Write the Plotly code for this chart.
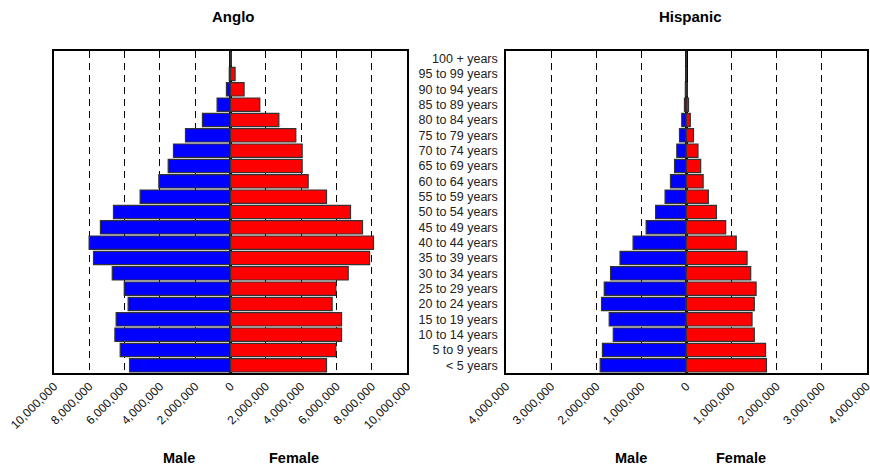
import plotly.graph_objects as go

ages = ["< 5 years", "5 to 9 years", "10 to 14 years", "15 to 19 years", "20 to 24 years",
        "25 to 29 years", "30 to 34 years", "35 to 39 years", "40 to 44 years", "45 to 49 years",
        "50 to 54 years", "55 to 59 years", "60 to 64 years", "65 to 69 years", "70 to 74 years",
        "75 to 79 years", "80 to 84 years", "85 to 89 years", "90 to 94 years", "95 to 99 years",
        "100 + years"]

anglo_male = [5720000, 6250000, 6550000, 6480000, 5800000, 6020000, 6700000, 7760000, 8010000,
              7370000, 6630000, 5120000, 4060000, 3530000, 3230000, 2550000, 1590000, 760000,
              230000, 70000, 10000]
anglo_female = [5440000, 5970000, 6290000, 6290000, 5760000, 5970000, 6670000, 7880000, 8100000,
                7480000, 6800000, 5440000, 4400000, 4060000, 4060000, 3700000, 2740000, 1660000,
                770000, 260000, 40000]

hisp_male = [1910000, 1860000, 1620000, 1710000, 1880000, 1820000, 1680000, 1470000, 1180000,
             890000, 680000, 470000, 350000, 260000, 210000, 150000, 100000, 40000, 20000,
             5000, 1000]
hisp_female = [1780000, 1760000, 1510000, 1460000, 1510000, 1550000, 1430000, 1350000, 1110000,
               875000, 670000, 490000, 375000, 320000, 260000, 160000, 90000, 50000, 20000,
               6000, 1000]

anglo_tickvals = [-10e6, -8e6, -6e6, -4e6, -2e6, 0, 2e6, 4e6, 6e6, 8e6, 10e6]
anglo_ticktext = ["10,000,000", "8,000,000", "6,000,000", "4,000,000", "2,000,000", "0",
                  "2,000,000", "4,000,000", "6,000,000", "8,000,000", "10,000,000"]
hisp_tickvals = [-4e6, -3e6, -2e6, -1e6, 0, 1e6, 2e6, 3e6, 4e6]
hisp_ticktext = ["4,000,000", "3,000,000", "2,000,000", "1,000,000", "0",
                 "1,000,000", "2,000,000", "3,000,000", "4,000,000"]

BLUE = "#0000ff"
RED = "#ff0000"
FONT = "Liberation Sans, Arial, sans-serif"

fig = go.Figure()
line = dict(color="#333333", width=1.2)
fig.add_trace(go.Bar(y=ages, x=[-v for v in anglo_male], orientation="h", marker=dict(color=BLUE, line=line),
                     xaxis="x", yaxis="y", showlegend=False))
fig.add_trace(go.Bar(y=ages, x=anglo_female, orientation="h", marker=dict(color=RED, line=line),
                     xaxis="x", yaxis="y", showlegend=False))
fig.add_trace(go.Bar(y=ages, x=[-v for v in hisp_male], orientation="h", marker=dict(color=BLUE, line=line),
                     xaxis="x2", yaxis="y2", showlegend=False))
fig.add_trace(go.Bar(y=ages, x=hisp_female, orientation="h", marker=dict(color=RED, line=line),
                     xaxis="x2", yaxis="y2", showlegend=False))

ydom = [(468 - 373) / 468, (468 - 51) / 468]
common_x = dict(showline=True, mirror=True, linecolor="black", linewidth=1.5,
                showgrid=True, gridcolor="black", griddash="7px,5px", gridwidth=1,
                zeroline=True, zerolinecolor="black", zerolinewidth=2.5,
                tickangle=-45, tickfont=dict(family=FONT, size=12, color="#111"),
                ticklabeloverflow="allow",
                ticks="", automargin=False, fixedrange=True)
common_y = dict(showline=True, mirror=True, linecolor="black", linewidth=1.5,
                showgrid=False, zeroline=False, categoryorder="array", categoryarray=ages,
                range=[-0.5, 20.5], automargin=False, domain=ydom, ticks="", fixedrange=True)

fig.update_layout(
    width=870, height=468,
    margin=dict(l=0, r=0, t=0, b=0),
    paper_bgcolor="white", plot_bgcolor="white",
    barmode="relative", bargap=0.13,
    font=dict(family=FONT, size=12, color="#222"),
    xaxis=dict(domain=[54 / 870, 407 / 870], range=[-10e6, 10e6], tickmode="array",
               tickvals=anglo_tickvals, ticktext=anglo_ticktext, anchor="y", **common_x),
    yaxis=dict(anchor="x", showticklabels=False, **common_y),
    xaxis2=dict(domain=[506 / 870, 866.5 / 870], range=[-4e6, 4e6], tickmode="array",
                tickvals=hisp_tickvals, ticktext=hisp_ticktext, anchor="y2", **common_x),
    yaxis2=dict(anchor="x2", showticklabels=True, ticklabelstandoff=4,
                tickfont=dict(family=FONT, size=12.5, color="#222"), **common_y),
)

ann = dict(showarrow=False, xref="paper", yref="paper", yanchor="middle", xanchor="center")
tfont = dict(family=FONT, size=15, color="black")
lfont = dict(family=FONT, size=14.5, color="black")
fig.add_annotation(text="<b>Anglo</b>", x=234 / 870, y=1 - 17 / 468, font=tfont, **ann)
fig.add_annotation(text="<b>Hispanic</b>", x=690 / 870, y=1 - 17 / 468, font=tfont, **ann)
fig.add_annotation(text="<b>Male</b>", x=179 / 870, y=1 - 458 / 468, font=lfont, **ann)
fig.add_annotation(text="<b>Female</b>", x=294 / 870, y=1 - 458 / 468, font=lfont, **ann)
fig.add_annotation(text="<b>Male</b>", x=631 / 870, y=1 - 458 / 468, font=lfont, **ann)
fig.add_annotation(text="<b>Female</b>", x=741 / 870, y=1 - 458 / 468, font=lfont, **ann)

fig.write_html("out.html", config={"displayModeBar": False},
               post_script="document.body.style.margin='0';document.body.style.overflow='hidden';")
